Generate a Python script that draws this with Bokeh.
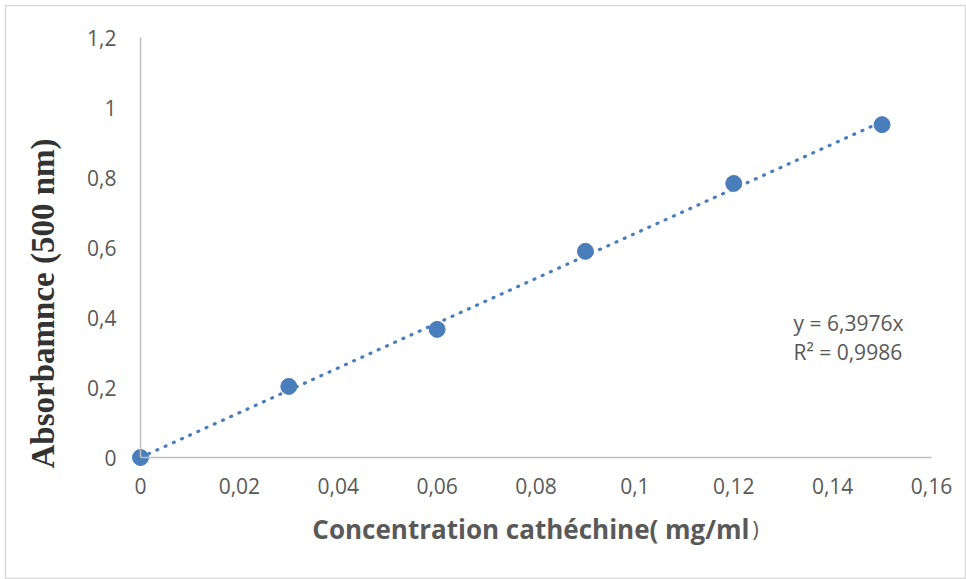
import numpy as np
from math import pi
from bokeh.plotting import figure
from bokeh.models import Range1d, FixedTicker, CustomJSTickFormatter, Label, ColumnDataSource
from bokeh.embed import file_html
from bokeh.resources import INLINE

# ---- data ----
concentration = [0.0, 0.03, 0.06, 0.09, 0.12, 0.15]
absorbance = [0.0, 0.203, 0.366, 0.589, 0.783, 0.951]
slope = 6.3976
r_squared = 0.9986
x_ticks = [0.0, 0.02, 0.04, 0.06, 0.08, 0.10, 0.12, 0.14, 0.16]
y_ticks = [0.0, 0.2, 0.4, 0.6, 0.8, 1.0, 1.2]
x_title = "Concentration cathéchine( mg/ml"
x_title_end = ")"
y_title = "Absorbamnce (500 nm)"

BLUE = "#4a7ebb"
GRAY = "#595959"
AXIS = "#bfbfbf"

# ---- layout (pixels) ----
W, H = 966, 579
FL, FR, FT, FB = 5, 965, 5, 578          # frame (chart border) in canvas pixels
AX_X0, AX_X1 = 140, 931                   # pixel of x=0 and x=x_max
AX_Y0, AX_Y1 = 457, 37                    # pixel of y=0 and y=y_max
xmax, ymax = x_ticks[-1], y_ticks[-1]
kx = xmax / (AX_X1 - AX_X0)
ky = ymax / (AX_Y0 - AX_Y1)
x_range = Range1d((FL - AX_X0) * kx, (FR - AX_X0) * kx)
y_range = Range1d((AX_Y0 - FB) * ky, (AX_Y0 - FT) * ky)

def px(xp):
    return (xp - AX_X0) * kx

def py(yp):
    return (AX_Y0 - yp) * ky

p = figure(width=W, height=H, output_backend="svg", toolbar_location=None,
           x_range=x_range, y_range=y_range,
           min_border_left=FL, min_border_right=W - FR, min_border_top=FT,
           min_border_bottom=H - FB)
p.outline_line_color = "#d9d9d9"
p.outline_line_width = 1.5
p.xgrid.visible = False
p.ygrid.visible = False

fmt = CustomJSTickFormatter(code="""
let s = tick.toFixed(2).replace(/0+$/, '').replace(/\\.$/, '');
return s.replace('.', ',');
""")

for ax, ticks in ((p.xaxis, x_ticks), (p.yaxis, y_ticks)):
    ax.ticker = FixedTicker(ticks=ticks)
    ax.formatter = fmt
    ax.fixed_location = 0
    ax.bounds = (ticks[0], ticks[-1])
    ax.major_tick_line_color = None
    ax.minor_tick_line_color = None
    ax.axis_line_color = AXIS
    ax.axis_line_width = 1.5
    ax.major_label_text_font = "Open Sans"
    ax.major_label_text_font_size = "21px"
    ax.major_label_text_color = GRAY
p.xaxis.major_label_standoff = 14
p.yaxis.major_label_standoff = 18

# trend line from fitted equation
trend_x = np.array([0.0, max(concentration)])
trend_src = ColumnDataSource(dict(x=trend_x, y=slope * trend_x))
p.line("x", "y", source=trend_src, line_color=BLUE, line_width=3.2,
       line_dash="1 8", line_cap="round")

src = ColumnDataSource(dict(x=concentration, y=absorbance))
p.scatter("x", "y", source=src, size=16, marker="circle",
          fill_color=BLUE, line_color=BLUE)

# equation text
eq1 = ("y = %.4fx" % slope).replace(".", ",")
eq2 = ("R² = %.4f" % r_squared).replace(".", ",")
p.add_layout(Label(x=px(793), y=py(322), text=eq1, text_font="Open Sans",
                   text_font_size="21px", text_color=GRAY, text_baseline="middle"))
p.add_layout(Label(x=px(793), y=py(351), text=eq2, text_font="Open Sans",
                   text_font_size="21px", text_color=GRAY, text_baseline="middle"))

# axis titles
p.add_layout(Label(x=px(749), y=py(528), text=x_title, text_font="Open Sans",
                   text_font_style="bold", text_font_size="26px", text_color=GRAY,
                   text_align="right", text_baseline="alphabetic"))
p.add_layout(Label(x=px(752), y=py(528), text=x_title_end, text_font="Open Sans",
                   text_font_size="21px", text_color=GRAY,
                   text_align="left", text_baseline="alphabetic"))
p.add_layout(Label(x=px(42), y=py(303), text=y_title, text_font="Liberation Serif",
                   text_font_style="bold", text_font_size="33px", text_color="#333333",
                   angle=pi / 2, text_align="center", text_baseline="alphabetic"))

open("out.html", "w").write(file_html(p, INLINE))
